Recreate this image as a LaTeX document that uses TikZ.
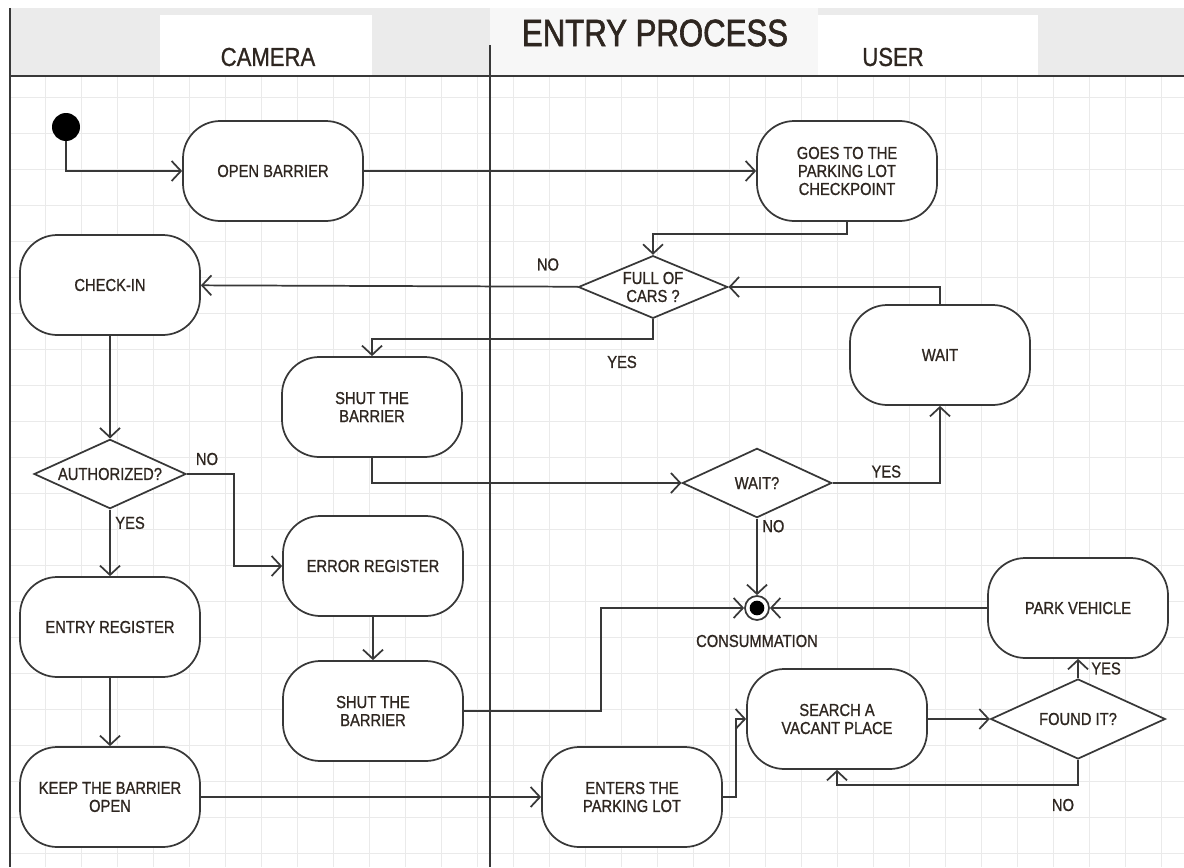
\documentclass[tikz,border=0pt]{standalone}
\usepackage{fontspec}
\setmainfont{Liberation Sans}[FakeStretch=0.85,FakeBold=0.9]
\newfontfamily\titlefont{Liberation Sans}[FakeStretch=0.82,FakeBold=1.6]
\usepackage{tikz}
\usetikzlibrary{shapes.geometric}
\usetikzlibrary{arrows.meta}
\definecolor{ink}{HTML}{2E2620}
\definecolor{linec}{HTML}{383838}
\definecolor{gridc}{HTML}{EAEAEA}
\definecolor{headc}{HTML}{EBEBEB}

\begin{document}
\begin{tikzpicture}[x=0.75pt,y=-0.75pt]

      \tikzset{activity/.style = {shape=rectangle,draw=linec,line width=1.3pt,fill=white,rounded corners=28pt,minimum width=135pt,minimum height=75pt,align=center,text=ink,font=\fontsize{13}{13.5}\selectfont}}
      \tikzset{decision/.style = {shape=diamond,aspect=2,inner sep=0pt,draw=linec,line width=1.3pt,fill=white,align=center,text=ink,font=\fontsize{13}{13.5}\selectfont}}
      \tikzset{edge/.style = {-{Straight Barb[length=7pt,width=15pt]},draw=linec,line width=1.3pt}}
      \tikzset{guard/.style = {text=ink,font=\fontsize{13}{13.5}\selectfont}}
      \tikzset{lane/.style = {text=ink,font=\fontsize{19.5}{20}\selectfont}}
      \useasboundingbox (0,0) rectangle (1184,867);
      % background
      \fill[headc] (10,8) rectangle (1184,76);
      \fill[white!60!headc] (490,8) rectangle (818,76);
      \fill[white] (160,15) rectangle (372,76);
      \fill[white] (818,15) rectangle (1038,76);
      \foreach \gx in {45,81,...,1184} \draw[gridc] (\gx,76) -- (\gx,867);
      \foreach \gy in {97,133,...,867} \draw[gridc] (10,\gy) -- (1184,\gy);
      \draw[linec,line width=1.3pt] (10,76) -- (1184,76);
      \draw[linec,line width=1.3pt] (10,8) -- (10,867);
      \draw[linec,line width=1.3pt] (490,45) -- (490,867);
      \node[text=ink,font=\titlefont\fontsize{28.5}{30}\selectfont] (ttl) at (655,33) {ENTRY PROCESS};
      \node[lane] (camera) at (268,57) {CAMERA};
      \node[lane] (user) at (893,57) {USER};
      % vertices
      \node[circle,fill=black,minimum size=21pt,inner sep=0pt] (init) at (66,127) {};
      \node[activity] (open) at (273,171) {OPEN BARRIER};
      \node[activity] (goes) at (847,171) {GOES TO THE\\PARKING LOT\\CHECKPOINT};
      \node[decision,minimum width=112pt,minimum height=47pt] (full) at (653,287) {FULL OF\\CARS ?};
      \node[activity] (checkin) at (110,285) {CHECK-IN};
      \node[activity] (shut1) at (372,407) {SHUT THE\\BARRIER};
      \node[activity] (wait) at (940,355) {WAIT};
      \node[decision,minimum width=112pt,minimum height=52pt] (waitq) at (757,483) {WAIT?};
      \node[decision,minimum width=114pt,minimum height=52pt] (auth) at (110,474) {AUTHORIZED?};
      \node[activity] (error) at (373,566) {ERROR REGISTER};
      \node[activity] (entry) at (110,627) {ENTRY REGISTER};
      \node[activity] (shut2) at (373,711) {SHUT THE\\BARRIER};
      \node[activity] (keep) at (110,797) {KEEP THE BARRIER\\OPEN};
      \node[activity] (enters) at (632,797) {ENTERS THE\\PARKING LOT};
      \node[activity] (search) at (837,719) {SEARCH A\\VACANT PLACE};
      \node[activity] (park) at (1078,608) {PARK VEHICLE};
      \node[decision,minimum width=131pt,minimum height=60pt] (found) at (1078,719) {FOUND IT?};
      \node[circle,draw=linec,line width=1.3pt,fill=white,minimum size=18pt,inner sep=0pt,
            path picture={\fill[black] (path picture bounding box.center) circle (5.5pt);}] (cons) at (757,608) {};
      \node[guard] (conslbl) at (757,641) {CONSUMMATION};
      %edges
      \draw[edge] (init) |- (open);
      \draw[edge] (open) -- (goes);
      \draw[edge] (goes.south) -- ++(0,12) -| (full.north);
      \draw[edge] (full) -- node[guard,above,pos=0.08,yshift=8pt] {NO} (checkin);
      \draw[edge] (full.south) -- ++(0,20) -| (shut1.north);
      \node[guard] (yesfull) at (622,362) {YES};
      \draw[edge] (wait.north) |- (full.east);
      \draw[edge] (shut1.south) |- (waitq.west);
      \draw[edge] (waitq.east) -| node[guard,above,pos=0.25] {YES} (wait.south);
      \draw[edge] (waitq.south) -- node[guard,right,pos=0.1] {NO} (cons.north);
      \draw[edge] (checkin) -- (auth.north);
      \draw[edge] (auth.east) -- ++(47,0) |- (error.west);
      \node[guard] (noauth) at (207,459) {NO};
      \draw[edge] (auth.south) -- node[guard,right,pos=0.2] {YES} (entry);
      \draw[edge] (entry) -- (keep);
      \draw[edge] (error) -- (shut2);
      \draw[edge] (shut2.east) -- ++(137,0) |- (cons.west);
      \draw[edge] (park.west) -- (cons.east);
      \draw[edge] (keep) -- (enters);
      \draw[edge] (enters.east) -- ++(13,0) |- (search.west);
      \draw[edge] (search) -- (found.west);
      \draw[edge] (found.north) -- node[guard,right,xshift=6pt] {YES} (park.south);
      \draw[edge] (found.south) -- ++(0,25) -| (search.south);
      \node[guard] (nofound) at (1063,805) {NO};
\end{tikzpicture}
\end{document}
